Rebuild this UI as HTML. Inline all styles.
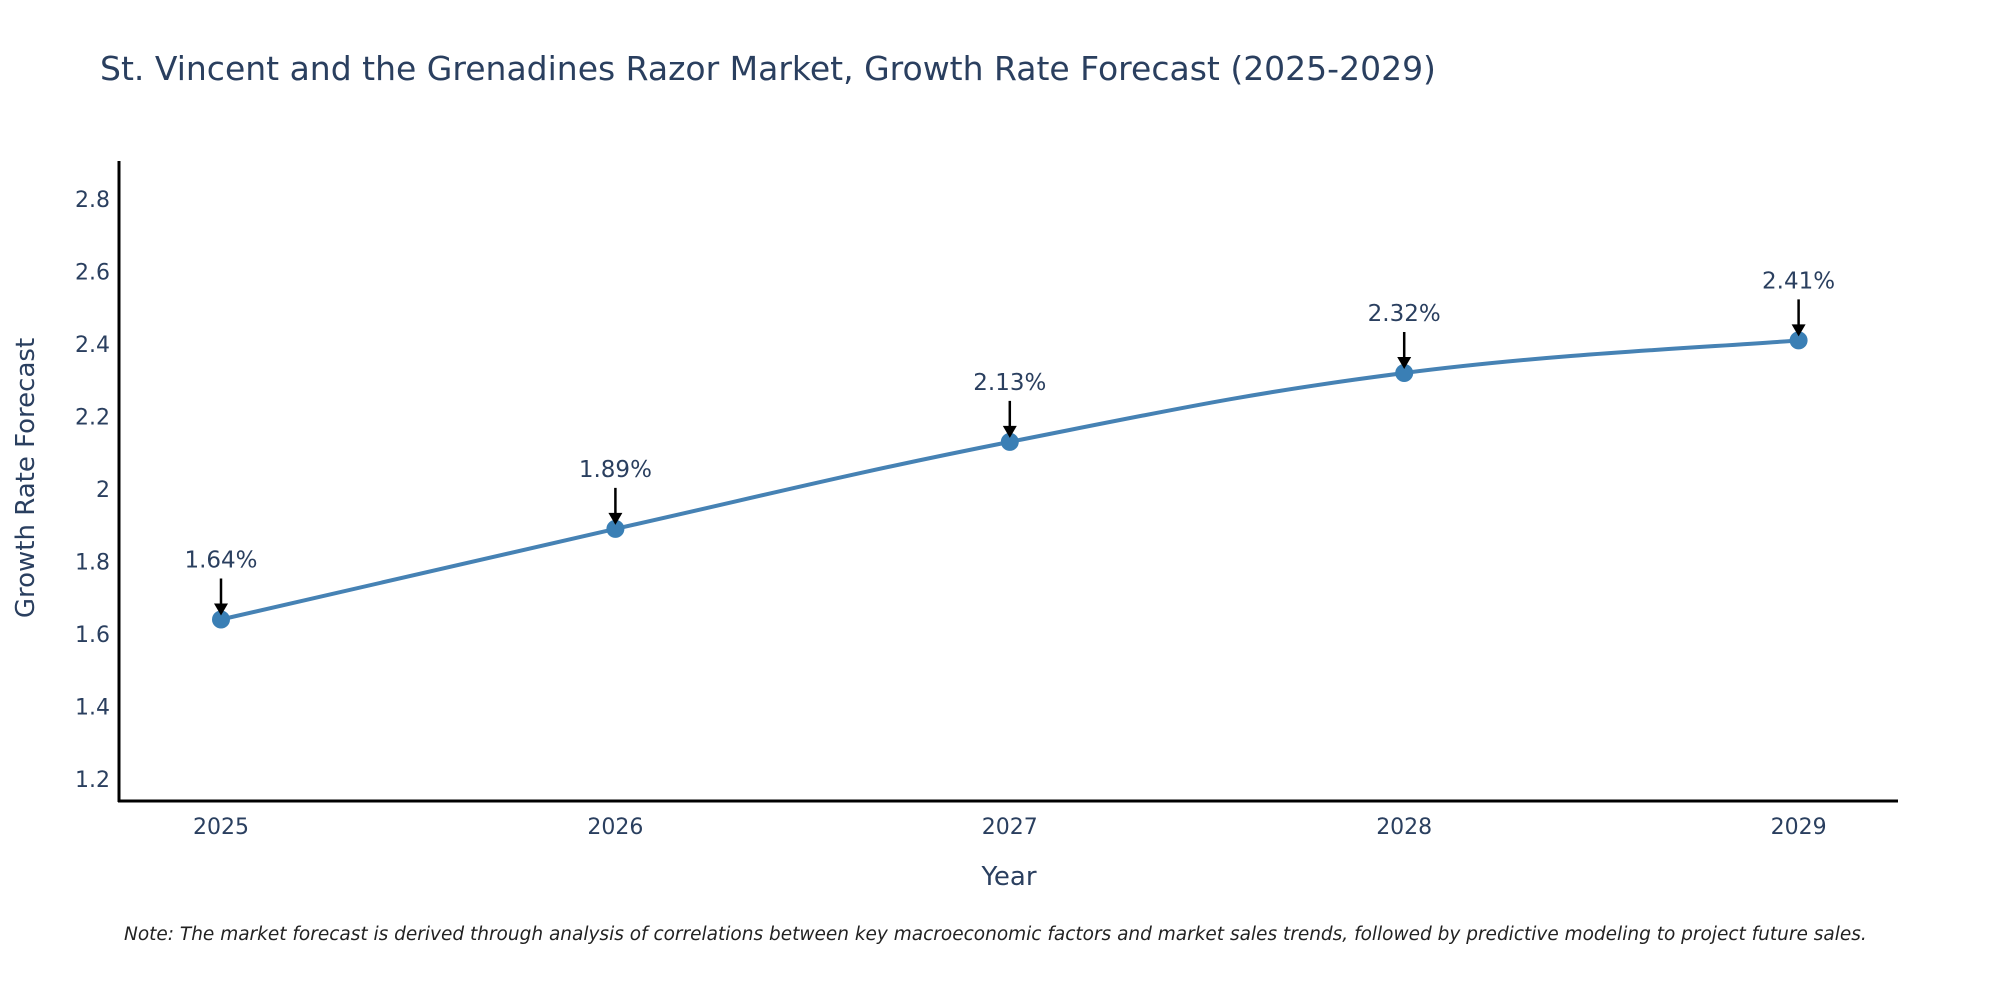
<!DOCTYPE html>
<html><head><meta charset="utf-8"><style>
body{margin:0;background:#fff;overflow:hidden;}
svg{font-family:"DejaVu Sans","Liberation Sans",sans-serif;}
</style></head><body>
<svg id="chart" width="2000" height="1000" viewBox="0 0 2000 1000">
<text x="100" y="80" font-size="33" fill="#2a3f5f">St. Vincent and the Grenadines Razor Market, Growth Rate Forecast (2025-2029)</text>
<g id="yticks"></g><g id="xticks"></g>
<line x1="119" y1="161" x2="119" y2="802" stroke="#000" stroke-width="3"/>
<line x1="118" y1="801" x2="1898" y2="801" stroke="#000" stroke-width="3"/>
<path id="line" fill="none" stroke="#4682B4" stroke-width="4"/>
<g id="points"></g><g id="annos"></g>
<text x="1009" y="885" font-size="26" fill="#2a3f5f" text-anchor="middle">Year</text>
<text x="0" y="0" font-size="26" fill="#2a3f5f" text-anchor="middle" transform="translate(34,478) rotate(-90)">Growth Rate Forecast</text>
<text x="124" y="940" font-size="18.5" font-style="italic" fill="#222">Note: The market forecast is derived through analysis of correlations between key macroeconomic factors and market sales trends, followed by predictive modeling to project future sales.</text>
</svg>
<script>
const years=[2025,2026,2027,2028,2029];
const values=[1.64,1.89,2.13,2.32,2.41];
const yTicks=[1.2,1.4,1.6,1.8,2,2.2,2.4,2.6,2.8];
const NS="http://www.w3.org/2000/svg";
function xS(i){return 221+(i-years[0])*394.4;}
function yS(v){return 779-(v-1.2)*362.5;}
function mk(t,a,p){const e=document.createElementNS(NS,t);for(const k in a)e.setAttribute(k,a[k]);p.appendChild(e);return e;}
const yt=document.getElementById('yticks');
yTicks.forEach(v=>{const t=mk('text',{x:110,y:yS(v)+8,'font-size':22,fill:'#2a3f5f','text-anchor':'end'},yt);


t.textContent=String(v);});
const xt=document.getElementById('xticks');
years.forEach(y=>{const t=mk('text',{x:xS(y),y:834,'font-size':22,fill:'#2a3f5f','text-anchor':'middle'},xt);


t.textContent=String(y);});
const pts=years.map((y,i)=>[xS(y),yS(values[i])]);
let d='M'+pts[0][0]+','+pts[0][1];
for(let i=0;i<pts.length-1;i++){const p0=pts[Math.max(0,i-1)],p1=pts[i],p2=pts[i+1],p3=pts[Math.min(pts.length-1,i+2)];const k=0.2;
d+=` C${p1[0]+(p2[0]-p0[0])*k},${p1[1]+(p2[1]-p0[1])*k} ${p2[0]-(p3[0]-p1[0])*k},${p2[1]-(p3[1]-p1[1])*k} ${p2[0]},${p2[1]}`;}
document.getElementById('line').setAttribute('d',d);
const pg=document.getElementById('points'),ag=document.getElementById('annos');
pts.forEach((p,i)=>{const c=mk('circle',{cx:p[0],cy:p[1],r:9,fill:'#3a7fb5'},pg);


const l=mk('line',{x1:p[0],y1:p[1]-41,x2:p[0],y2:p[1]-14,stroke:'#000','stroke-width':2.5},ag);


const h=mk('polygon',{points:`${p[0]-7},${p[1]-16} ${p[0]+7},${p[1]-16} ${p[0]},${p[1]-4}`,fill:'#000'},ag);


const t=mk('text',{x:p[0],y:p[1]-52,'font-size':23,fill:'#2a3f5f','text-anchor':'middle'},ag);


t.textContent=values[i].toFixed(2)+'%';});
</script>
</body></html>
